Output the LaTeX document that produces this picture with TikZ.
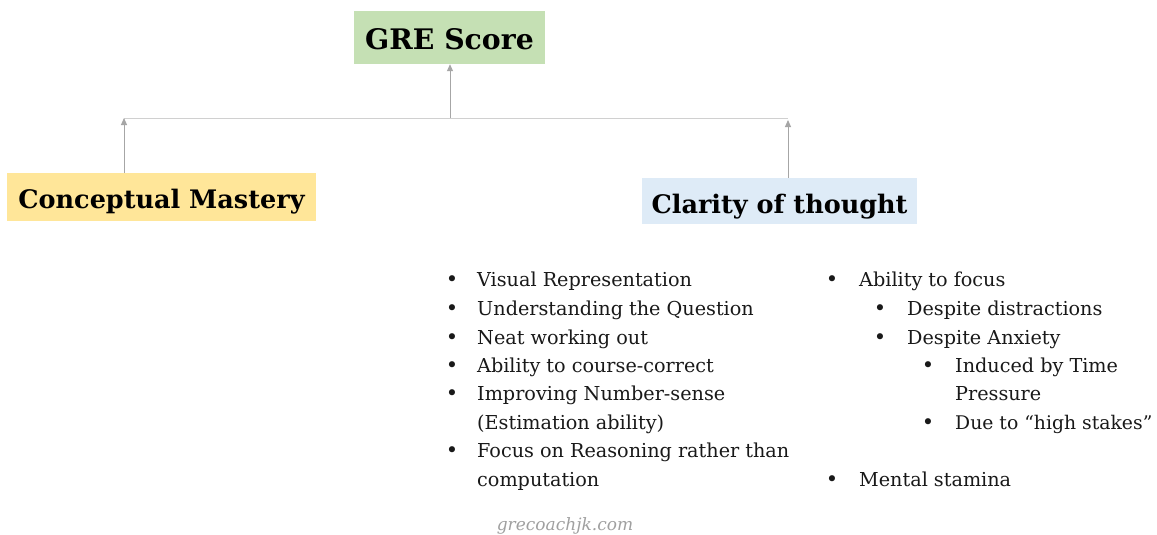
\documentclass[tikz,border=0pt]{standalone}
\usepackage{fontspec}
\setmainfont{DejaVu Serif}
\usetikzlibrary{arrows.meta}
\definecolor{grn}{HTML}{C5E0B4}
\definecolor{ylw}{HTML}{FFE699}
\definecolor{blu}{HTML}{DEEBF7}
\definecolor{arrgray}{HTML}{A6A6A6}
\definecolor{hgray}{HTML}{D0D0D0}
\definecolor{wm}{HTML}{A0A0A0}
\tikzset{
  box/.style={inner sep=0pt, text depth=0pt, font=\fontsize{25.5}{30}\selectfont\bfseries},
  arr/.style={draw=arrgray, line width=1pt, -{Triangle[width=6pt,length=7pt]}},
  hl/.style={draw=hgray, line width=1pt},
  item/.style={anchor=mid west, inner sep=0pt, font=\fontsize{19.2}{23}\selectfont, text=black!90},
  bul/.style={anchor=mid, inner sep=0pt, font=\fontsize{21}{24}\selectfont, text=black!90},
}
\begin{document}
\begin{tikzpicture}[x=1pt,y=-1pt]
\useasboundingbox[fill=white] (0,0) rectangle (1157,535);
% boxes
\node[box, fill=grn, minimum width=191pt, minimum height=53pt, text height=25pt, font=\fontsize{28.3}{33}\selectfont\bfseries] (gre) at (449.5,37.5) {GRE Score};
\node[box, fill=ylw, minimum width=309pt, minimum height=48pt, text height=22pt] (cm) at (161.5,197) {Conceptual Mastery};
\node[box, fill=blu, minimum width=275pt, minimum height=46pt, text height=24pt] (ct) at (779.5,201) {Clarity of thought};
% connectors
\coordinate (jc) at (450,118);
\coordinate (jl) at (124,118);
\coordinate (jr) at (788,120);
\draw[hl] (jl) -- (jr |- jl);
\draw[arr] (jc) -- (jc |- gre.south);
\draw[arr] (jl |- cm.north) -- (jl);
\draw[arr] (jr |- ct.north) -- (jr);
% left list
\foreach \n/\y/\t in {1/284/Visual Representation, 2/313/Understanding the Question, 3/342/Neat working out, 4/370/Ability to course-correct, 5/398/Improving Number-sense, 7/455/Focus on Reasoning rather than}{
  \node[bul] (lb\n) at (452,\y) {•};
  \node[item] (li\n) at (477,\y) {\t};
}
\node[item] (li6) at (477,427) {(Estimation ability)};
\node[item] (li8) at (477,484) {computation};
% right list
\node[bul] (rb1) at (832,284) {•};
\node[item] (ri1) at (859,284) {Ability to focus};
\node[bul] (rb2) at (880,313) {•};
\node[item] (ri2) at (907,313) {Despite distractions};
\node[bul] (rb3) at (880,342) {•};
\node[item] (ri3) at (907,342) {Despite Anxiety};
\node[bul] (rb4) at (928,370) {•};
\node[item] (ri4) at (955,370) {Induced by Time};
\node[item] (ri5) at (955,398) {Pressure};
\node[bul] (rb6) at (928,427) {•};
\node[item, font=\fontsize{18.8}{23}\selectfont] (ri6) at (955,427) {Due to “high stakes”};
\node[bul] (rb7) at (832,484) {•};
\node[item] (ri7) at (859,484) {Mental stamina};
% watermark
\node[inner sep=0pt, text=wm, font=\fontsize{17}{21}\selectfont\itshape] (wmk) at (565,526) {grecoachjk.com};
\end{tikzpicture}
\end{document}
